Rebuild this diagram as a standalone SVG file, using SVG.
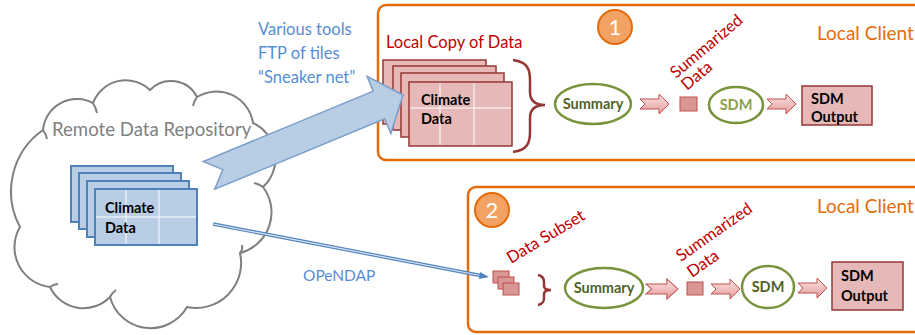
<svg xmlns="http://www.w3.org/2000/svg" width="915" height="335" viewBox="0 0 915 335">
<defs>
<linearGradient id="pg" x1="0" y1="0" x2="0" y2="1">
<stop offset="0" stop-color="#FBE4E4"/>
<stop offset="1" stop-color="#E49A99"/>
</linearGradient>
<g id="blk"><polygon points="0,-5 19,-5 19,-10 29,0 19,10 19,5 0,5 5,0"/></g>
</defs>
<style>
text{font-family:Lato,"Liberation Sans",sans-serif}
.box{fill:#fff;stroke:#E46C0A;stroke-width:2.5}
.pk{fill:#E6B9B8;stroke:#953735;stroke-width:1.5}
.pk2{fill:#D99694;stroke:#C0504D;stroke-width:1}
.bl{fill:#B9CDE5;stroke:#4F81BD;stroke-width:2}
.grid{stroke:#fff;stroke-width:1}
.ell{fill:#fff;stroke:#77933C;stroke-width:2.5}
.blk{fill:url(#pg);stroke:#C0504D;stroke-width:1}
.brace{fill:none;stroke:#953735;stroke-width:2.5}
.num{fill:#F2A263;stroke:#E46C0A;stroke-width:2}
.numt{fill:#fff;font-size:22px;text-anchor:middle}
.cl{fill:#000;font-size:14.5px;font-weight:bold}
.red{fill:#C00000;font-size:16.5px}
.org{fill:#E46C0A;font-size:19px}
.blu{fill:#558ED5;font-size:16.5px}
.gr{fill:#4F6228;font-size:14.5px;font-weight:bold;text-anchor:middle}
</style>

<g id="cloud">
<path d="M43,130 A34,34 0 0 1 93,103 A35,35 0 0 1 150,90 A29,29 0 0 1 197,97 A37,37 0 0 1 253,123 A39,39 0 0 1 263,187 A42,42 0 0 1 240,253 A45,45 0 0 1 187,307 A42,42 0 0 1 110,297 A37,37 0 0 1 50,287 A40,40 0 0 1 20,227 A75,75 0 0 1 43,130 Z" fill="#fff" stroke="#7F7F7F" stroke-width="2"/>
<path d="M93,103 q3,5 4,10 M197,97 q-3,4 -4,9 M263,187 q-4,-3 -9,-4 M240,253 q3,-3 2,-8 M110,297 q2,-4 6,-7 M50,287 q4,-3 8,-3 M43,130 q3,4 4,9" fill="none" stroke="#7F7F7F" stroke-width="2"/>
<text x="52" y="136" fill="#7F7F7F" style="font-size:18.6px">Remote Data Repository</text>
</g>

<g id="remote-data">
<rect class="bl" x="71" y="166" width="102" height="56"/>
<rect class="bl" x="79" y="173" width="102" height="56"/>
<rect class="bl" x="87" y="181" width="102" height="56"/>
<rect class="bl" x="95" y="189" width="102" height="56"/>
<line class="grid" x1="126" y1="190" x2="126" y2="244"/>
<line class="grid" x1="159" y1="190" x2="159" y2="244"/>
<line class="grid" x1="96" y1="217" x2="196" y2="217"/>
<text class="cl" x="105" y="213">Climate</text>
<text class="cl" x="105" y="233">Data</text>
</g>

<g id="client1">
<rect class="box" x="378" y="5" width="560" height="155" rx="8"/>
<circle class="num" cx="615" cy="27" r="17"/>
<text class="numt" x="615" y="35">1</text>
<text class="org" x="817" y="40">Local Client</text>
<text class="red" x="386" y="48">Local Copy of Data</text>
</g>

<g id="local-data">
<rect class="pk" x="383" y="60" width="103" height="64"/>
<rect class="pk" x="393" y="66" width="103" height="64"/>
<rect class="pk" x="401" y="73" width="103" height="64"/>
<rect class="pk" x="409" y="82" width="103" height="64"/>
<line class="grid" x1="440" y1="83" x2="440" y2="145"/>
<line class="grid" x1="474" y1="83" x2="474" y2="145"/>
<line class="grid" x1="410" y1="108" x2="511" y2="108"/>
<text class="cl" x="421" y="105">Climate</text>
<text class="cl" x="421" y="124">Data</text>
</g>

<g id="client2">
<rect class="box" x="468" y="187" width="470" height="145" rx="8"/>
<circle class="num" cx="492" cy="210" r="17"/>
<text class="numt" x="492" y="218">2</text>
<text class="org" x="817" y="213">Local Client</text>
</g>

<g id="connectors">
<g transform="translate(403,95) rotate(-22.5)">
<polygon points="0,0 -26,-31 -26,-15 -210,-15 -195,0 -210,15 -26,15 -26,31" fill="#B9CDE5" stroke="#7A9FCB" stroke-width="1.5"/>
</g>
<line x1="213" y1="224" x2="483" y2="276" stroke="#4F81BD" stroke-width="3.5"/>
<line x1="213" y1="224" x2="483" y2="276" stroke="#DCE6F2" stroke-width="1.2"/>
<polygon points="489,277 480,272 479,279" fill="#4F81BD"/>
<path class="brace" d="M513,60 C528,62 530,70 530,80 L530,92 C530,100 534,105 545,105 C534,105 530,110 530,118 L530,132 C530,142 528,150 513,152"/>
<path class="brace" stroke-width="1.8" d="M538,275 C543,276 544,279 544,282 L544,286 C544,289 546,290 551,290 C546,290 544,291 544,294 L544,298 C544,302 543,304 538,305"/>
<use href="#blk" class="blk" transform="translate(640,104)"/>
<use href="#blk" class="blk" transform="translate(767,104)"/>
<use href="#blk" class="blk" transform="translate(646,289) scale(1.1,1)"/>
<use href="#blk" class="blk" transform="translate(711,289)"/>
<use href="#blk" class="blk" transform="translate(798,288)"/>
</g>

<g id="labels">
<text class="blu" x="258" y="35">Various tools</text>
<text class="blu" x="258" y="59">FTP of tiles</text>
<text class="blu" x="258" y="83">“Sneaker net”</text>
<text class="blu" x="303" y="281" style="font-size:15.5px">OPeNDAP</text>
</g>

<g id="flow1">
<ellipse class="ell" cx="593" cy="104" rx="38" ry="20"/>
<text class="gr" x="593" y="109">Summary</text>
<rect class="pk2" x="680" y="97" width="17" height="14"/>
<text class="red" transform="translate(676,79) rotate(-40)">Summarized</text>
<text class="red" transform="translate(687,91) rotate(-40)">Data</text>
<ellipse class="ell" cx="736" cy="105" rx="27" ry="18"/>
<text class="gr" x="736" y="110" style="fill:#8A9F4E">SDM</text>
<rect class="pk" x="802" y="86" width="70" height="39"/>
<text class="cl" x="811" y="104">SDM</text>
<text class="cl" x="811" y="122">Output</text>
</g>

<g id="flow2">
<rect class="pk2" x="493" y="271" width="16" height="12"/>
<rect class="pk2" x="498" y="277" width="16" height="12"/>
<rect class="pk2" x="503" y="283" width="16" height="12"/>
<text class="red" transform="translate(511,264) rotate(-31)">Data Subset</text>
<ellipse class="ell" cx="604" cy="288" rx="39" ry="20"/>
<text class="gr" x="604" y="293">Summary</text>
<rect class="pk2" x="687" y="282" width="16" height="13"/>
<text class="red" transform="translate(681,262) rotate(-35)">Summarized</text>
<text class="red" transform="translate(692,278) rotate(-35)">Data</text>
<ellipse class="ell" cx="768" cy="287" rx="26" ry="21"/>
<text class="gr" x="768" y="292">SDM</text>
<rect class="pk" x="832" y="262" width="71" height="48"/>
<text class="cl" x="841" y="281">SDM</text>
<text class="cl" x="841" y="301">Output</text>
</g>
</svg>
